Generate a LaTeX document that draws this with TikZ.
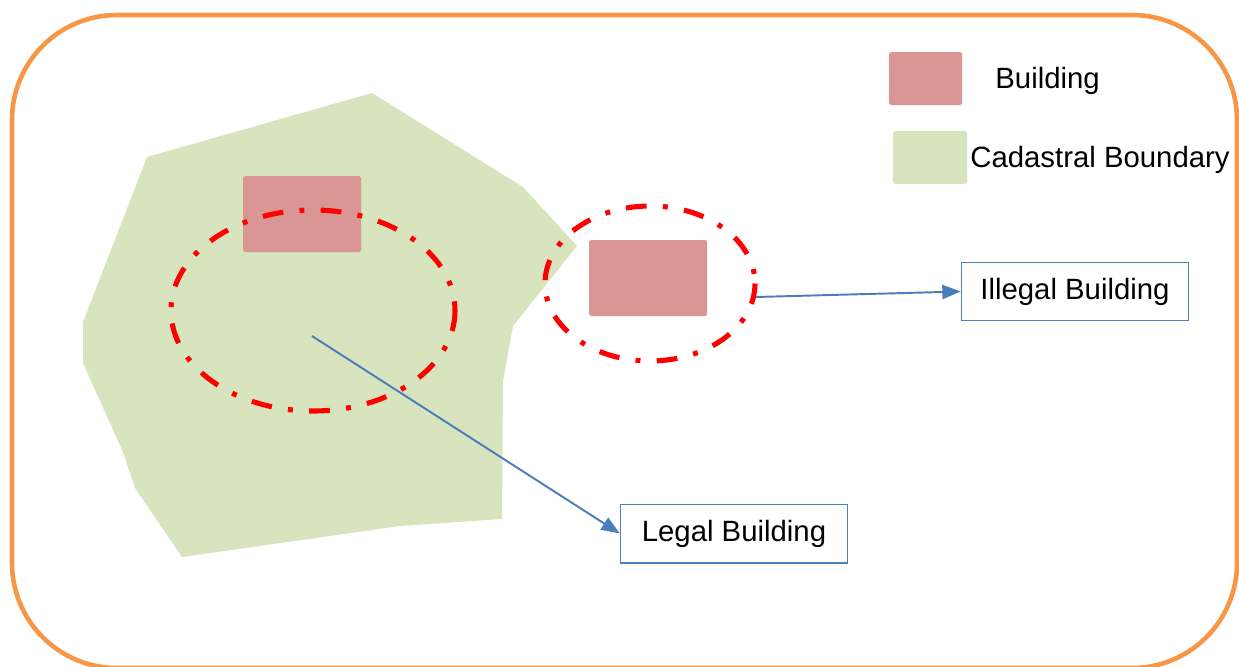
\documentclass[tikz,border=0pt]{standalone}
\usepackage{fontspec}
\setmainfont{Liberation Sans}
\usetikzlibrary{arrows.meta}
\definecolor{bldg}{HTML}{D99694}
\definecolor{parcel}{HTML}{D7E4BD}
\definecolor{frame}{HTML}{F79646}
\definecolor{conn}{HTML}{4A7EBB}
\definecolor{boxline}{HTML}{4F81BD}
\tikzset{
  building/.style={fill=bldg, draw=none, rounded corners=1pt},
  zone/.style={draw=red, line width=2.9pt, dash pattern=on 11.8pt off 9.3pt on 2.8pt off 9.3pt},
  labelbox/.style={draw=boxline, line width=0.85pt, fill=white, minimum width=4.54cm, minimum height=1.17cm, inner sep=0pt, font=\fontsize{16.7}{19}\selectfont},
  legendtext/.style={anchor=base west, inner sep=0pt, font=\fontsize{16.7}{19}\selectfont},
  pointer/.style={draw=conn, line width=1.1pt, -{Triangle[length=10.5pt,width=8pt]}}
}
\begin{document}
\begin{tikzpicture}[x=0.02cm,y=-0.02cm]
\useasboundingbox (0,0) rectangle (1239,666);
% frame
\draw[frame, line width=2.6pt, rounded corners=2.1cm] (12,15) rectangle (1237,668);
% cadastral parcel
\fill[parcel] (147,157) -- (372,93) -- (523,187) -- (577,246) -- (513,326) -- (503,381) -- (502,519) -- (400,526) -- (182,557) -- (135,488) -- (123,452) -- (83,363) -- (83,322) -- cycle;
% buildings
\fill[building] (243,176) rectangle (361,252);
\fill[building] (589,240) rectangle (707,316);
% legend
\fill[building] (889,52) rectangle (962,105);
\fill[parcel, rounded corners=1pt] (893,131) rectangle (967,184);
\node[legendtext] (lbld) at (995,88) {Building};
\node[legendtext] (lcad) at (970,167) {Cadastral Boundary};
% zones
\draw[zone] (313,310.5) ellipse [x radius=142, y radius=100.5];
\draw[zone] (650,283.5) ellipse [x radius=105, y radius=77.5];
\coordinate (s1) at (312,336);
\coordinate (s2) at (756,297);
% label boxes
\node[labelbox] (legal) at (734,533.5) {Legal Building};
\node[labelbox] (illegal) at (1075,291.5) {Illegal Building};
% connectors
\draw[pointer] (s1) -- (legal.west);
\draw[pointer] (s2) -- (illegal.west);
\end{tikzpicture}
\end{document}
